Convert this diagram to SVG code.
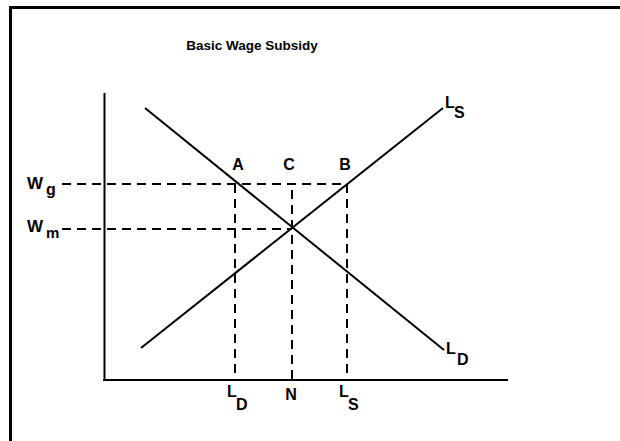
<svg xmlns="http://www.w3.org/2000/svg" width="620" height="441" viewBox="0 0 620 441">
<style>
.t{font-family:"Liberation Sans",Arial,sans-serif;font-weight:bold;fill:#000;font-size:16px}
.solid{stroke:#000;stroke-width:2;fill:none}
.dash{stroke:#000;stroke-width:2;fill:none;stroke-dasharray:9 6}
</style>
<rect width="620" height="441" fill="#fff"/>
<g id="frame">
<line x1="9" y1="7.5" x2="620" y2="7.5" stroke="#000" stroke-width="3"/>
<line x1="10.5" y1="6" x2="10.5" y2="441" stroke="#000" stroke-width="3"/>
</g>
<g id="title"><text class="t" x="252" y="50" style="font-size:13.5px" text-anchor="middle">Basic Wage Subsidy</text></g>
<g id="axes">
<line class="solid" x1="104.5" y1="93" x2="104.5" y2="381" stroke-width="3"/>
<line class="solid" x1="103" y1="380" x2="508" y2="380" stroke-width="3"/>
</g>
<g id="connectors">
<line class="solid" x1="145" y1="108" x2="444" y2="350"/>
<line class="solid" x1="141" y1="348" x2="443" y2="108"/>
<line class="dash" x1="62" y1="184" x2="347" y2="184"/>
<line class="dash" x1="62" y1="229" x2="292" y2="229"/>
<line class="dash" x1="235" y1="184" x2="235" y2="379"/>
<line class="dash" x1="292" y1="190" x2="292" y2="379"/>
<line class="dash" x1="347" y1="184" x2="347" y2="379"/>
</g>
<g id="label-Ls-top"><text class="t" x="445" y="108">L</text><text class="t" x="454" y="118">S</text></g>
<g id="label-Ld-right"><text class="t" x="446" y="354">L</text><text class="t" x="457" y="365">D</text></g>
<g id="label-Wg"><text class="t" x="27" y="189" style="font-size:17px">W</text><text class="t" x="46" y="195">g</text></g>
<g id="label-Wm"><text class="t" x="27" y="232" style="font-size:17px">W</text><text class="t" x="46" y="238" style="font-size:15px">m</text></g>
<g id="label-A"><text class="t" x="238" y="170" text-anchor="middle">A</text></g>
<g id="label-C"><text class="t" x="289" y="170" text-anchor="middle">C</text></g>
<g id="label-B"><text class="t" x="345" y="170" text-anchor="middle">B</text></g>
<g id="label-Ld-axis"><text class="t" x="227" y="397">L</text><text class="t" x="236" y="410">D</text></g>
<g id="label-N"><text class="t" x="291" y="400" text-anchor="middle">N</text></g>
<g id="label-Ls-axis"><text class="t" x="339" y="397">L</text><text class="t" x="348" y="410">S</text></g>
</svg>
